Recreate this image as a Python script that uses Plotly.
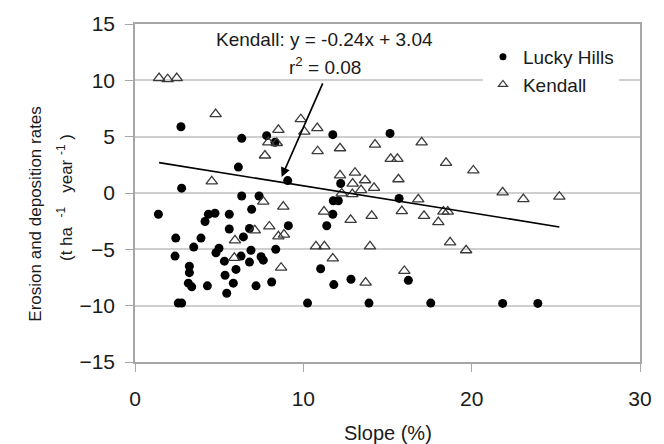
import plotly.graph_objects as go

# Lucky Hills (filled circles)
lucky_x = [1.39, 2.73, 2.77, 6.34, 7.82, 8.32, 6.14, 9.07,
           6.34, 7.37, 6.93, 4.36, 4.75, 5.6, 4.16, 5.6, 6.8, 9.11, 2.42, 3.92, 6.44,
           3.49, 4.99, 4.81, 6.89, 8.36, 2.38, 5.31, 6.3, 6.8, 7.49, 7.62, 3.23, 6.0,
           3.23, 5.35, 3.17, 3.37, 4.3, 5.84, 7.19, 8.12, 5.45, 2.57, 2.77, 10.25,
           11.75, 15.15, 12.22, 15.69, 11.78, 12.08, 11.75, 11.39, 11.03, 11.81, 12.83,
           16.24, 13.9, 17.57, 21.84, 23.93]
lucky_y = [-1.89, 5.88, 0.43, 4.85, 5.09, 4.5, 2.3, 1.1,
           -0.27, -0.27, -1.45, -1.89, -1.8, -1.89, -2.53, -3.2, -3.15, -2.9, -4.0, -4.0, -3.9,
           -4.8, -4.9, -5.3, -5.08, -5.0, -5.6, -6.05, -5.6, -6.13, -5.66, -5.96, -6.5, -6.78,
           -7.07, -7.3, -8.0, -8.33, -8.24, -8.0, -8.24, -7.9, -8.9, -9.77, -9.77, -9.77,
           5.18, 5.29, 0.84, -0.48, -0.69, -0.69, -1.89, -2.91, -6.72, -8.13, -7.66,
           -7.75, -9.77, -9.77, -9.8, -9.8]

# Kendall (open triangles)
kendall_x = [1.43, 1.94, 2.48, 4.79, 8.52, 7.92, 8.42, 7.72, 9.85, 10.06, 4.56,
             7.62, 8.81, 7.98, 7.12, 8.52, 8.85, 5.94, 5.9, 8.68,
             10.83, 10.85, 12.18, 14.26, 17.03, 15.19, 15.59, 18.48, 20.1, 12.18, 13.07,
             12.93, 13.67, 14.2, 15.65, 13.43,
             12.28, 12.91, 16.83, 11.23, 12.81, 14.06, 15.85, 17.17, 18.32, 18.58, 18.02,
             10.75, 11.25, 13.96, 11.75, 18.72, 19.67, 16.0, 13.7, 21.84, 23.07, 25.21]
kendall_y = [10.2, 10.1, 10.2, 7.0, 5.6, 4.5, 4.44, 3.33, 6.55, 5.44, 1.04,
             -0.77, -1.21, -2.97, -3.32, -3.85, -3.7, -4.2, -5.75, -6.63,
             5.76, 3.71, 3.97, 4.3, 4.5, 3.03, 3.03, 2.68, 2.0, 1.57, 1.8,
             0.83, 1.13, 0.46, 1.22, 0.25,
             -0.04, -0.1, -0.57, -1.65, -2.38, -2.03, -1.6, -2.03, -1.65, -1.65, -2.59,
             -4.73, -4.73, -4.73, -5.81, -4.38, -5.08, -6.92, -7.95, 0.05, -0.54, -0.33]

slope, intercept = -0.24, 3.04
fit_x = [min(kendall_x), max(kendall_x)]
fit_y = [slope * v + intercept for v in fit_x]

x_ticks = [0, 10, 20, 30]
y_ticks = [-15, -10, -5, 0, 5, 10, 15]

FONT = "Arial, 'Liberation Sans', sans-serif"
TXT = "#1a1a1a"
NB = "\u00a0"

fig = go.Figure()
fig.add_trace(go.Scatter(x=lucky_x, y=lucky_y, mode="markers", name="Lucky Hills",
                         showlegend=False,
                         marker=dict(symbol="circle", size=9, color="black",
                                     line=dict(width=0))))
fig.add_trace(go.Scatter(x=kendall_x, y=kendall_y, mode="markers", name="Kendall",
                         showlegend=False,
                         marker=dict(symbol="triangle-up-open", size=10, color="#3a3a3a",
                                     line=dict(width=1.3))))
fig.add_trace(go.Scatter(x=fit_x, y=fit_y, mode="lines", showlegend=False,
                         line=dict(color="black", width=1.6)))
# legend entries (smaller symbols, as in the original legend)
fig.add_trace(go.Scatter(x=[None], y=[None], mode="markers", name="Lucky Hills",
                         marker=dict(symbol="circle", size=7, color="black")))
fig.add_trace(go.Scatter(x=[None], y=[None], mode="markers", name="Kendall",
                         marker=dict(symbol="triangle-up-open", size=8, color="#3a3a3a",
                                     line=dict(width=1.2))))

fig.add_annotation(x=11.26, y=13.64, xref="x", yref="y", text="Kendall: y = -0.24x + 3.04",
                   showarrow=False, font=dict(size=19, color=TXT, family=FONT))
fig.add_annotation(x=11.29, y=11.3, xref="x", yref="y", text="r<sup>2</sup> = 0.08",
                   showarrow=False, font=dict(size=19, color=TXT, family=FONT))
fig.add_annotation(x=8.71, y=1.42, xref="x", yref="y", ax=11.19, ay=9.86,
                   axref="x", ayref="y", text="", showarrow=True,
                   arrowhead=2, arrowsize=1.1, arrowwidth=1.7, arrowcolor="black")

# axis titles
fig.add_annotation(x=0.5, y=-0.211, xref="paper", yref="paper", text="Slope (%)",
                   showarrow=False, xanchor="center", yanchor="middle",
                   font=dict(size=20, color=TXT, family=FONT))
fig.add_annotation(x=-0.196, y=0.436, xref="paper", yref="paper",
                   text="Erosion and deposition rates", textangle=-90,
                   showarrow=False, xanchor="center", yanchor="middle",
                   font=dict(size=17, color=TXT, family=FONT))
fig.add_annotation(x=-0.14, y=0.486, xref="paper", yref="paper",
                   text="(t ha" + NB * 2 + "<sup>-1</sup>" + NB * 3 + "year" + NB + "<sup>-1</sup>" + NB + ")",
                   textangle=-90,
                   showarrow=False, xanchor="center", yanchor="middle",
                   font=dict(size=17, color=TXT, family=FONT))

axis_common = dict(showline=True, linecolor="#a6a6a6", linewidth=1.5, mirror=True,
                   ticks="outside", ticklen=8, tickcolor="#a6a6a6", zeroline=False,
                   tickfont=dict(size=21, color=TXT, family=FONT))

fig.update_xaxes(range=[0, 30], tickvals=x_ticks, showgrid=False,
                 ticklabelstandoff=9, **axis_common)
fig.update_yaxes(range=[-15, 15], tickvals=y_ticks, showgrid=True, gridcolor="#cfcfcf",
                 gridwidth=1.5, ticklabelstandoff=6, **axis_common)

fig.update_layout(
    width=664, height=444,
    margin=dict(l=135, r=24, t=20, b=82),
    paper_bgcolor="white", plot_bgcolor="white",
    font=dict(family=FONT, color=TXT),
    legend=dict(x=0.689, y=0.959, xanchor="left", yanchor="top",
                bgcolor="white", borderwidth=0,
                font=dict(size=19, color=TXT, family=FONT),
                itemwidth=30, tracegroupgap=2),
    showlegend=True,
)

fig.write_html("out.html")
